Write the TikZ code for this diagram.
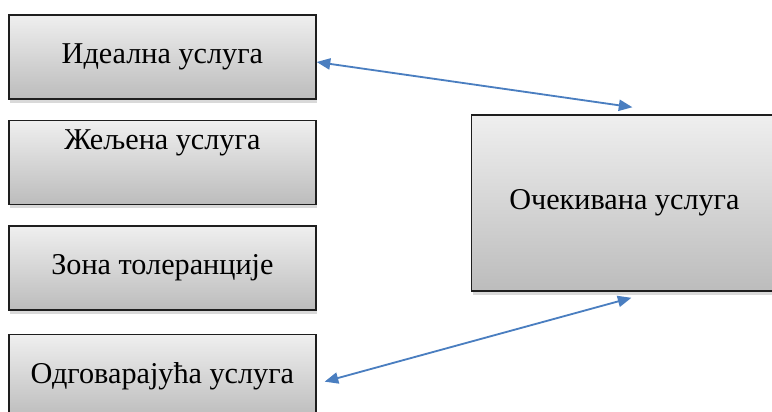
\documentclass[tikz,border=0pt]{standalone}
\usepackage{fontspec}
\setmainfont{Liberation Serif}
\usetikzlibrary{positioning, arrows.meta, shadows}

\definecolor{boxtop}{HTML}{EFEFEF}
\definecolor{boxbottom}{HTML}{BCBCBC}
\definecolor{boxline}{HTML}{1E1E1E}
\definecolor{linkblue}{HTML}{4A7EC0}

\begin{document}
\begin{tikzpicture}[
        node distance=0.5cm,
        box/.style={draw=boxline, line width=1.1pt, top color=boxtop, bottom color=boxbottom,
            minimum width=7.675cm, minimum height=2.1cm, align=center,
            font=\fontsize{21.5}{25}\selectfont,
            drop shadow={shadow xshift=0.8pt, shadow yshift=-2.5pt, opacity=0.3}},
        link/.style={draw=linkblue, line width=1.3pt,
            {Triangle[length=0.34cm, width=0.28cm]}-{Triangle[length=0.34cm, width=0.28cm]}}
        ]
        \useasboundingbox (0,0) rectangle (19.3,-10.3);
        % Nodes
        \node[box] (ideal) at (4.06,-1.425) {Идеална услуга};
        \node[box] (desired) [below=of ideal] {Жељена услуга\\\strut};
        \node[box] (zone) [below=of desired] {Зона толеранције};
        \node[box] (adequate) [below=0.575cm of zone] {Одговарајућа услуга};
        \node[box, minimum width=7.65cm, minimum height=4.4cm] (expected) at (15.61,-5.075) {Очекивана услуга};

        % Arrows
        \draw[link] ([yshift=-0.125cm]ideal.east) -- ([xshift=0.2cm, yshift=0.175cm]expected.north);
        \draw[link] ([xshift=0.175cm, yshift=-0.15cm]expected.south) -- ([xshift=0.2cm, yshift=-0.125cm]adequate.east);
    \end{tikzpicture}
\end{document}
